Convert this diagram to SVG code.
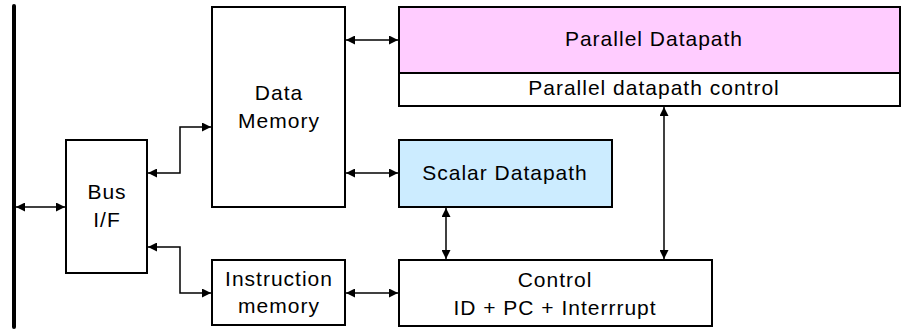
<svg xmlns="http://www.w3.org/2000/svg" width="901" height="331" viewBox="0 0 901 331">
  <style>
    .box { stroke: #000; stroke-width: 2; fill: #fff; }
    .pink { fill: #ffccff; }
    .blue { fill: #ccecff; }
    .lbl { font-family: "Liberation Sans", Arial, sans-serif; font-size: 21px; letter-spacing: 1px; fill: #000; text-anchor: middle; }
    .wire { stroke: #000; stroke-width: 1.5; fill: none; marker-start: url(#ah); marker-end: url(#ah); }
  </style>
  <defs>
    <marker id="ah" viewBox="0 0 10 10" refX="10" refY="5" markerWidth="10" markerHeight="9" markerUnits="userSpaceOnUse" orient="auto-start-reverse">
      <path d="M0,0 L10,5 L0,10 z" fill="#000"/>
    </marker>
  </defs>

  <rect width="901" height="331" fill="#fff"/>

  <!-- system bus -->
  <g id="bus">
    <line x1="14" y1="6" x2="14" y2="327" stroke="#000" stroke-width="4" stroke-linecap="round"/>
  </g>

  <g id="bus-if">
    <rect class="box" x="66" y="140" width="81" height="133"/>
    <text class="lbl" x="107" y="199">Bus</text>
    <text class="lbl" x="107" y="227">I/F</text>
  </g>

  <g id="data-memory">
    <rect class="box" x="212" y="7" width="133" height="200"/>
    <text class="lbl" x="279" y="100">Data</text>
    <text class="lbl" x="279" y="128">Memory</text>
  </g>

  <g id="instruction-memory">
    <rect class="box" x="212" y="260" width="133" height="65"/>
    <text class="lbl" x="279" y="286">Instruction</text>
    <text class="lbl" x="279" y="313">memory</text>
  </g>

  <g id="parallel-datapath">
    <rect class="box pink" x="399" y="7" width="501" height="66"/>
    <text class="lbl" x="654" y="46">Parallel Datapath</text>
  </g>

  <g id="parallel-control">
    <rect class="box" x="399" y="73" width="501" height="33"/>
    <text class="lbl" x="654" y="95">Parallel datapath control</text>
  </g>

  <g id="scalar-datapath">
    <rect class="box blue" x="399" y="140" width="213" height="67"/>
    <text class="lbl" x="505" y="180">Scalar Datapath</text>
  </g>

  <g id="control">
    <rect class="box" x="399" y="260" width="313" height="66"/>
    <text class="lbl" x="555" y="287">Control</text>
    <text class="lbl" x="555" y="315">ID + PC + Interrrupt</text>
  </g>

  <g id="connectors">
    <path class="wire" d="M16,207 H65"/>
    <path class="wire" d="M148,173 H180 V127 H211"/>
    <path class="wire" d="M148,247 H180 V293 H211"/>
    <path class="wire" d="M346,40 H398"/>
    <path class="wire" d="M346,173 H398"/>
    <path class="wire" d="M346,293 H398"/>
    <path class="wire" d="M446,208 V259"/>
    <path class="wire" d="M664,107 V259"/>
  </g>
</svg>
